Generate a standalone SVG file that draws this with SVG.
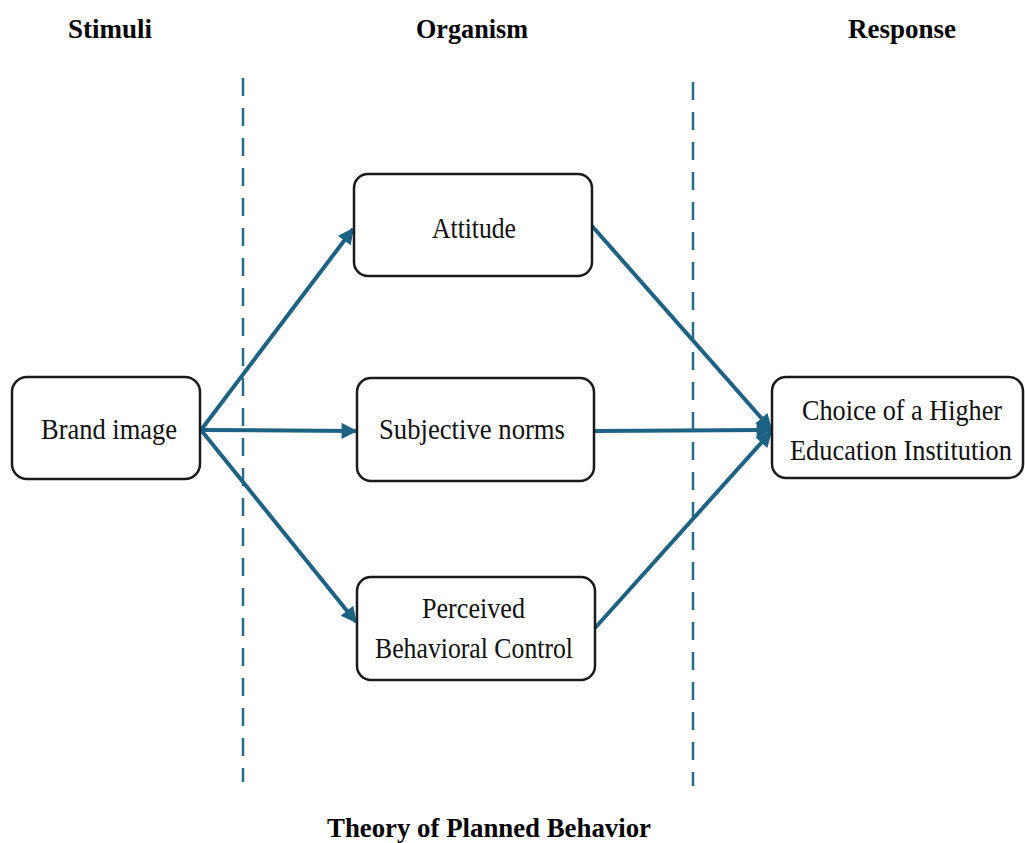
<svg xmlns="http://www.w3.org/2000/svg" width="1025" height="843" viewBox="0 0 1025 843">
<defs>
<style>
.box{fill:#fff;stroke:#1a1a1a;stroke-width:2.5}
.lbl{font-family:"Liberation Serif","Times New Roman",serif;font-size:30px;fill:#111}
.hdr{font-family:"Liberation Serif","Times New Roman",serif;font-size:28px;font-weight:bold;fill:#000}
.edge{stroke:#1e6283;stroke-width:4;fill:none;marker-end:url(#ah)}
.div{stroke:#2a6b8a;stroke-width:2.5;stroke-dasharray:18 12;fill:none}
</style>
<marker id="ah" viewBox="0 0 10 10" refX="9" refY="5" markerWidth="4.5" markerHeight="4" orient="auto" markerUnits="strokeWidth">
<path d="M0,0 L10,5 L0,10 z" fill="#1e6283"/>
</marker>
</defs>
<rect width="1025" height="843" fill="#fff"/>
<g id="headers">
<text class="hdr" x="68" y="38" textLength="84" lengthAdjust="spacingAndGlyphs">Stimuli</text>
<text class="hdr" x="416" y="38" textLength="112" lengthAdjust="spacingAndGlyphs">Organism</text>
<text class="hdr" x="848" y="38" textLength="108" lengthAdjust="spacingAndGlyphs">Response</text>
<text class="hdr" x="327" y="837" textLength="324" lengthAdjust="spacingAndGlyphs">Theory of Planned Behavior</text>
</g>
<g id="dividers">
<line class="div" x1="243" y1="78" x2="243" y2="782"/>
<line class="div" x1="693" y1="82" x2="693" y2="786"/>
</g>
<g id="connectors">
<line class="edge" x1="201" y1="430" x2="353" y2="229"/>
<line class="edge" x1="201" y1="430" x2="356" y2="431"/>
<line class="edge" x1="201" y1="430" x2="356" y2="622"/>
<line class="edge" x1="592" y1="226" x2="771" y2="429"/>
<line class="edge" x1="594" y1="431" x2="771" y2="430"/>
<line class="edge" x1="595" y1="628" x2="771" y2="432"/>
</g>
<g id="brand">
<rect class="box" x="12" y="377" width="188" height="102" rx="15"/>
<text class="lbl" x="41" y="439" textLength="136" lengthAdjust="spacingAndGlyphs">Brand image</text>
</g>
<g id="attitude">
<rect class="box" x="354" y="174" width="238" height="102" rx="14"/>
<text class="lbl" x="432" y="238" textLength="84" lengthAdjust="spacingAndGlyphs">Attitude</text>
</g>
<g id="subjective">
<rect class="box" x="357" y="378" width="237" height="103" rx="14"/>
<text class="lbl" x="379" y="439" textLength="186" lengthAdjust="spacingAndGlyphs">Subjective norms</text>
</g>
<g id="perceived">
<rect class="box" x="357" y="577" width="238" height="103" rx="14"/>
<text class="lbl" x="422" y="618" textLength="103" lengthAdjust="spacingAndGlyphs">Perceived</text>
<text class="lbl" x="375" y="658" textLength="198" lengthAdjust="spacingAndGlyphs">Behavioral Control</text>
</g>
<g id="choice">
<rect class="box" x="772" y="377" width="251" height="101" rx="14"/>
<text class="lbl" x="802" y="420" textLength="200" lengthAdjust="spacingAndGlyphs">Choice of a Higher</text>
<text class="lbl" x="790" y="460" textLength="222" lengthAdjust="spacingAndGlyphs">Education Institution</text>
</g>
</svg>
